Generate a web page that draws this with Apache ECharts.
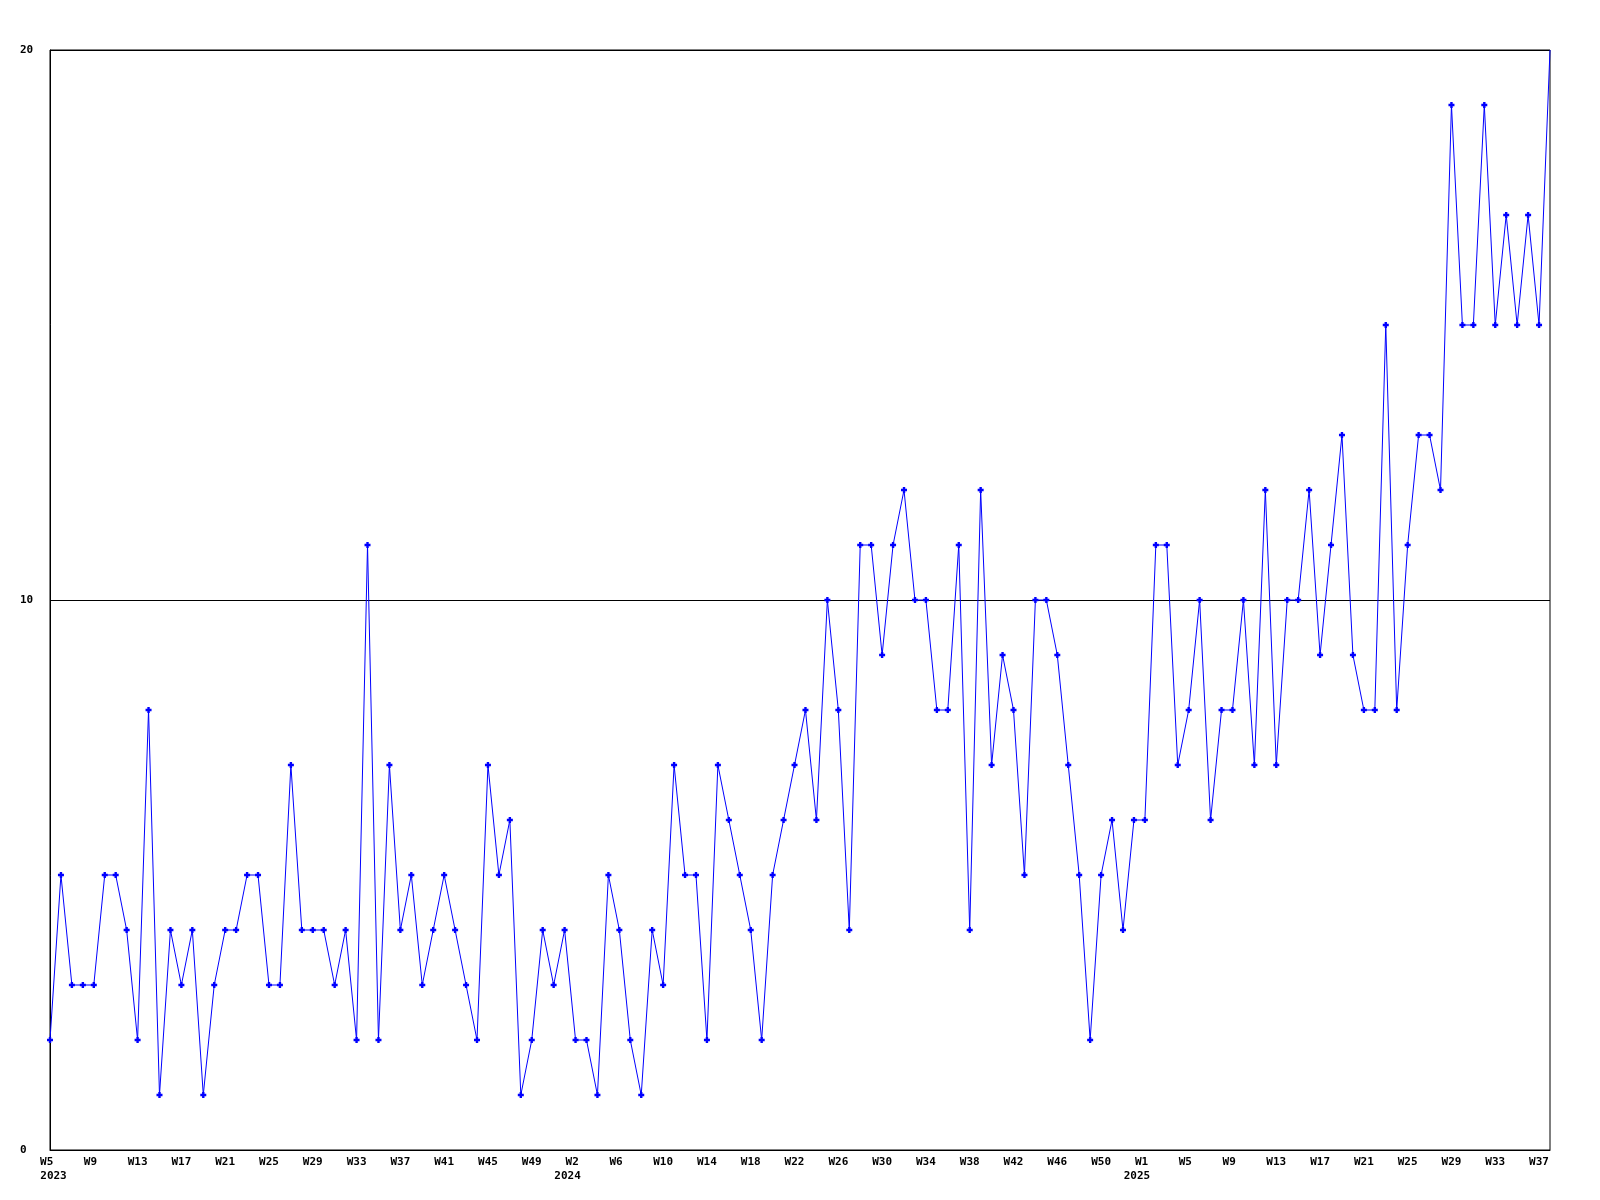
<!DOCTYPE html>
<html>
<head>
<meta charset="utf-8">
<script src="https://cdn.jsdelivr.net/npm/echarts@6/dist/echarts.min.js"></script>
<style>
html,body{margin:0;padding:0;background:#fff;}
#chart{width:1600px;height:1200px;}
</style>
</head>
<body>
<div id="chart"></div>
<script>
// Week ranges shown on the x axis (year, first week label, number of points)
const yearList = [2023, 2024, 2025];
const firstWeek = [5, 2, 1];
const pointsPerYear = [48, 52, 38];

// Weekly values
const values = [
  2,5,3,3,3,5,5,4,2,8,
  1,4,3,4,1,3,4,4,5,5,
  3,3,7,4,4,4,3,4,2,11,
  2,7,4,5,3,4,5,4,3,2,
  7,5,6,1,2,4,3,4,2,2,
  1,5,4,2,1,4,3,7,5,5,
  2,7,6,5,4,2,5,6,7,8,
  6,10,8,4,11,11,9,11,12,10,
  10,8,8,11,4,12,7,9,8,5,
  10,10,9,7,5,2,5,6,4,6,
  6,11,11,7,8,10,6,8,8,10,
  7,12,7,10,10,12,9,11,13,9,
  8,8,15,8,11,13,13,12,19,15,
  15,19,15,17,15,17,15,20
];

// Y tick labels
const yTicks = [0, 10, 20];

const categories = [];
yearList.forEach((y, k) => {
  for (let j = 0; j < pointsPerYear[k]; j++) {
    categories.push(y + '-W' + (firstWeek[k] + j));
  }
});

const FONT = '"DejaVu Sans Mono", "Liberation Mono", monospace';
const chart = echarts.init(document.getElementById('chart'), null, {renderer: 'canvas'});

function isYearStart(i) {
  return i === 0 || categories[i].split('-')[0] !== categories[i - 1].split('-')[0];
}

const option = {
  animation: false,
  backgroundColor: '#ffffff',
  grid: {
    left: 50, right: 50, top: 50, bottom: 50,
    show: true, borderColor: '#000000', borderWidth: 1, backgroundColor: 'transparent'
  },
  xAxis: [
    {
      type: 'category',
      data: categories,
      boundaryGap: false,
      axisLine: {show: true, lineStyle: {color: '#000000', width: 1}},
      axisTick: {show: false},
      splitLine: {show: false},
      axisLabel: {
        interval: function (index) { return index % 4 === 0; },
        hideOverlap: false,
        margin: 7,
        color: '#000000',
        fontFamily: FONT,
        fontWeight: 'bold',
        fontSize: 11,
        lineHeight: 11,
        formatter: function (val) {
          let w = val.split('-')[1];
          while (w.length < 3) w += ' ';
          return w;
        }
      }
    },
    {
      type: 'category',
      data: categories,
      boundaryGap: false,
      position: 'bottom',
      axisLine: {show: false},
      axisTick: {show: false},
      splitLine: {show: false},
      axisLabel: {
        interval: function (index) { return isYearStart(index); },
        hideOverlap: false,
        margin: 21,
        color: '#000000',
        fontFamily: FONT,
        fontWeight: 'bold',
        fontSize: 11,
        lineHeight: 11,
        formatter: function (val, idx) {
          const y = val.split('-')[0];
          return idx === 0 ? '{a|' + y + '}' : '{b|' + y + '}';
        },
        rich: {
          a: {fontFamily: FONT, fontWeight: 'bold', fontSize: 11, color: '#000', padding: [0, 0, 0, 7]},
          b: {fontFamily: FONT, fontWeight: 'bold', fontSize: 11, color: '#000', padding: [0, 16, 0, 0]}
        }
      }
    }
  ],
  yAxis: {
    type: 'value',
    min: yTicks[0],
    max: yTicks[yTicks.length - 1],
    interval: yTicks[1] - yTicks[0],
    axisLine: {show: true, lineStyle: {color: '#000000', width: 1}},
    axisTick: {show: false},
    splitLine: {show: true, lineStyle: {color: '#000000', width: 1}},
    axisLabel: {
      margin: 30,
      align: 'left',
      color: '#000000',
      fontFamily: FONT,
      fontWeight: 'bold',
      fontSize: 11
    }
  },
  series: [{
    type: 'line',
    xAxisIndex: 0,
    data: values,
    showAllSymbol: true,
    symbol: function (v, p) {
      return p.dataIndex === values.length - 1 ? 'none' : 'path://M1.5,0H3.5V1.5H5V3.5H3.5V5H1.5V3.5H0V1.5H1.5Z';
    },
    symbolSize: 6,
    lineStyle: {color: '#0000ff', width: 1},
    itemStyle: {color: '#0000ff', borderWidth: 0},
    emphasis: {disabled: true},
    silent: true
  }]
};
chart.setOption(option);
</script>
</body>
</html>
